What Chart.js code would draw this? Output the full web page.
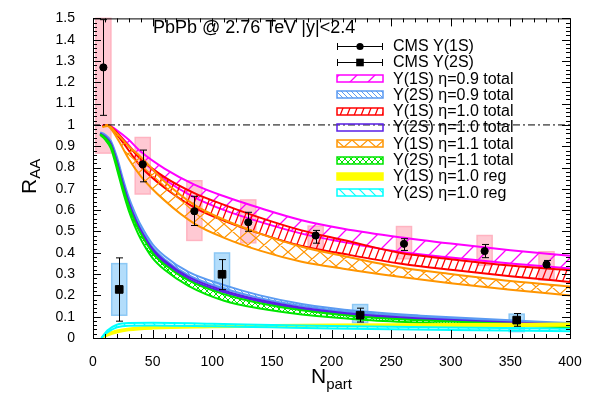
<!DOCTYPE html>
<html>
<head>
<meta charset="utf-8">
<script src="https://cdn.jsdelivr.net/npm/chart.js@4.4.1/dist/chart.umd.min.js"></script>
<style>
html, body { margin: 0; padding: 0; background: #fff; }
#wrap { width: 592px; height: 396px; }
</style>
</head>
<body>
<div id="wrap"><canvas id="raaChart" width="592" height="396"></canvas></div>
<script>
const FONT = '"Liberation Sans", Arial, Helvetica, sans-serif';

// model bands, Y(1S)
const npart1S = [8, 12, 20, 30, 40, 60, 85, 110, 140, 175, 210, 257, 300, 350, 400];
const ups1S09 = [0.995, 1.0, 0.975, 0.93, 0.875, 0.795, 0.72, 0.665, 0.61, 0.553, 0.513, 0.473, 0.443, 0.412, 0.386];
const low1S09 = [0.995, 1.0, 0.965, 0.905, 0.84, 0.745, 0.66, 0.6, 0.545, 0.49, 0.45, 0.405, 0.378, 0.35, 0.326];
const ups1S10 = [0.995, 1.0, 0.965, 0.9, 0.84, 0.755, 0.68, 0.625, 0.565, 0.505, 0.46, 0.4, 0.37, 0.34, 0.318];
const low1S10 = [0.995, 1.0, 0.955, 0.88, 0.805, 0.705, 0.612, 0.55, 0.49, 0.432, 0.395, 0.35, 0.32, 0.29, 0.263];
const ups1S11 = [0.99, 1.0, 0.96, 0.9, 0.85, 0.735, 0.625, 0.555, 0.49, 0.428, 0.385, 0.332, 0.3, 0.267, 0.242];
const low1S11 = [0.99, 0.995, 0.94, 0.84, 0.76, 0.645, 0.537, 0.47, 0.41, 0.358, 0.325, 0.287, 0.257, 0.227, 0.2];

// model bands, Y(2S)
const npart2S = [6, 10, 15, 20, 25, 30, 35, 40, 50, 60, 80, 110, 140, 175, 225, 275, 325, 400];
const ups2S09 = [0.965, 0.955, 0.925, 0.85, 0.75, 0.66, 0.59, 0.53, 0.44, 0.385, 0.31, 0.248, 0.2, 0.16, 0.125, 0.105, 0.09, 0.07];
const low2S09 = [0.96, 0.948, 0.915, 0.835, 0.735, 0.645, 0.572, 0.515, 0.425, 0.37, 0.295, 0.232, 0.187, 0.15, 0.117, 0.098, 0.084, 0.065];
const ups2S10 = [0.96, 0.946, 0.912, 0.83, 0.728, 0.638, 0.565, 0.507, 0.418, 0.362, 0.287, 0.222, 0.178, 0.142, 0.11, 0.092, 0.079, 0.062];
const low2S10 = [0.958, 0.943, 0.908, 0.824, 0.72, 0.63, 0.557, 0.498, 0.41, 0.353, 0.278, 0.214, 0.171, 0.136, 0.105, 0.088, 0.075, 0.059];
const ups2S11 = [0.957, 0.94, 0.903, 0.815, 0.71, 0.62, 0.547, 0.49, 0.4, 0.345, 0.27, 0.205, 0.163, 0.13, 0.1, 0.083, 0.071, 0.056];
const low2S11 = [0.953, 0.932, 0.89, 0.795, 0.69, 0.598, 0.525, 0.465, 0.375, 0.32, 0.245, 0.175, 0.138, 0.11, 0.086, 0.072, 0.062, 0.05];

// regeneration-only bands
const npartReg = [7, 12, 20, 30, 50, 100, 150, 200, 300, 400];
const ups1SReg = [0, 0.02, 0.035, 0.045, 0.053, 0.058, 0.061, 0.063, 0.066, 0.068];
const low1SReg = [0, 0.012, 0.026, 0.036, 0.044, 0.05, 0.053, 0.055, 0.056, 0.057];
const ups2SReg = [0, 0.035, 0.062, 0.07, 0.071, 0.067, 0.061, 0.056, 0.049, 0.044];
const low2SReg = [0, 0.026, 0.05, 0.058, 0.059, 0.055, 0.05, 0.045, 0.038, 0.032];

// CMS data
const npartCms1S = [8.7, 41.7, 85, 130.2, 186.7, 260.8, 328.4, 380.3];
const raaCms1S = [1.27, 0.815, 0.595, 0.543, 0.481, 0.442, 0.408, 0.345];
const statLo1S = [1.045, 0.733, 0.528, 0.501, 0.445, 0.411, 0.377, 0.33];
const statHi1S = [1.494, 0.882, 0.665, 0.59, 0.505, 0.466, 0.439, 0.364];
const sysLo1S = [0.868, 0.676, 0.458, 0.447, 0.42, 0.372, 0.341, 0.271];
const sysHi1S = [1.5, 0.941, 0.738, 0.648, 0.525, 0.523, 0.481, 0.405];

const npartCms2S = [22, 108.2, 224, 355.3];
const raaCms2S = [0.228, 0.299, 0.107, 0.084];
const statLo2S = [0.079, 0.227, 0.075, 0.055];
const statHi2S = [0.376, 0.368, 0.14, 0.115];
const sysLo2S = [0.107, 0.224, 0.072, 0.03];
const sysHi2S = [0.349, 0.399, 0.157, 0.112];

const refLevel = 1;
const xTicks = { min: 0, max: 400, major: 50, minor: 10 };
const yTicks = { min: 0, max: 1.5, major: 0.1, minor: 0.02 };

const canvas = document.getElementById('raaChart');
const mainCtx = canvas.getContext('2d');

// hatch pattern, segments repeated over neighbouring tiles so the tile is seamless
function hatch(color, w, h, segs, lw) {
    const c = document.createElement('canvas');
    c.width = w;
    c.height = h;
    const g = c.getContext('2d');
    g.strokeStyle = color;
    g.lineWidth = lw;
    g.beginPath();
    segs.forEach(([x0, y0, x1, y1]) => {
        for (let i = -1; i <= 1; i++) {
            for (let j = -1; j <= 1; j++) {
                g.moveTo(x0 + i * w, y0 + j * h);
                g.lineTo(x1 + i * w, y1 + j * h);
            }
        }
    });
    g.stroke();
    return mainCtx.createPattern(c, 'repeat');
}

const C = {
    magenta: '#ff00ff',
    sky: '#5b9bf2',
    red: '#ff0000',
    violet: '#5a1ee6',
    orange: '#ff9500',
    green: '#00e600',
    yellow: '#ffff00',
    cyan: '#00ffff'
};

const fills = {
    magenta: hatch(C.magenta, 18, 18, [[0, 18, 18, 0]], 1.3),
    sky: hatch(C.sky, 5, 5, [[0, 0, 5, 5]], 1),
    red: hatch(C.red, 7, 18, [[0, 18, 7, 0]], 1.3),
    violet: null,
    orange: hatch(C.orange, 16, 14, [[0, 14, 16, 0], [0, 0, 16, 14]], 1.2),
    green: hatch(C.green, 6, 6, [[0, 6, 6, 0], [0, 0, 6, 6]], 1),
    yellow: C.yellow,
    cyan: hatch(C.cyan, 10, 10, [[0, 0, 10, 10]], 1.2)
};

function pts(xs, ys) {
    return xs.map((x, i) => ({ x: x, y: ys[i] }));
}

function band(xs, lo, hi, key, label, order) {
    const common = {
        borderColor: C[key],
        borderWidth: 2,
        pointRadius: 0,
        cubicInterpolationMode: 'monotone',
        order: order
    };
    return [
        Object.assign({ label: label + ' lo', data: pts(xs, lo), fill: false }, common),
        Object.assign({
            label: label,
            data: pts(xs, hi),
            backgroundColor: fills[key] || 'rgba(0,0,0,0)',
            fill: fills[key] ? '-1' : false,
            legendKey: key
        }, common)
    ];
}

const datasets = [
    {
        label: 'CMS Υ(1S)',
        data: pts(npartCms1S, raaCms1S),
        showLine: false,
        pointStyle: 'circle',
        pointRadius: 3.6,
        pointBackgroundColor: '#000',
        pointBorderColor: '#000',
        order: 0
    },
    {
        label: 'CMS Υ(2S)',
        data: pts(npartCms2S, raaCms2S),
        showLine: false,
        pointStyle: 'rect',
        pointRadius: 5.4,
        pointBackgroundColor: '#000',
        pointBorderColor: '#000',
        order: 0
    },
    {
        label: 'ref',
        data: [{ x: xTicks.min, y: refLevel }, { x: xTicks.max, y: refLevel }],
        borderColor: '#000',
        borderWidth: 1,
        borderDash: [7, 3, 2, 3],
        pointRadius: 0,
        fill: false,
        order: 1
    },
    ...band(npartReg, low2SReg, ups2SReg, 'cyan', 'Υ(2S) η=1.0 reg', 3),
    ...band(npartReg, low1SReg, ups1SReg, 'yellow', 'Υ(1S) η=1.0 reg', 4),
    ...band(npart2S, low2S11, ups2S11, 'green', 'Υ(2S) η=1.1 total', 5),
    ...band(npart1S, low1S11, ups1S11, 'orange', 'Υ(1S) η=1.1 total', 6),
    ...band(npart2S, low2S10, ups2S10, 'violet', 'Υ(2S) η=1.0 total', 7),
    ...band(npart1S, low1S10, ups1S10, 'red', 'Υ(1S) η=1.0 total', 8),
    ...band(npart2S, low2S09, ups2S09, 'sky', 'Υ(2S) η=0.9 total', 9),
    ...band(npart1S, low1S09, ups1S09, 'magenta', 'Υ(1S) η=0.9 total', 10)
];

const legendOrder = [
    'CMS Υ(1S)', 'CMS Υ(2S)',
    'Υ(1S) η=0.9 total', 'Υ(2S) η=0.9 total',
    'Υ(1S) η=1.0 total', 'Υ(2S) η=1.0 total',
    'Υ(1S) η=1.1 total', 'Υ(2S) η=1.1 total',
    'Υ(1S) η=1.0 reg', 'Υ(2S) η=1.0 reg'
];

// systematic boxes under the curves, stat bars on top
const cmsErrors = {
    id: 'cmsErrors',
    beforeDatasetsDraw(chart) {
        const { ctx, scales: { x, y } } = chart;
        const halfW = 6.3;
        const drawBoxes = (xs, lo, hi, fill, edge) => {
            xs.forEach((v, i) => {
                const x0 = x.getPixelForValue(v - halfW);
                const x1 = x.getPixelForValue(v + halfW);
                const y0 = y.getPixelForValue(Math.min(hi[i], yTicks.max));
                const y1 = y.getPixelForValue(lo[i]);
                ctx.fillStyle = fill;
                ctx.fillRect(x0, y0, x1 - x0, y1 - y0);
                ctx.strokeStyle = edge;
                ctx.lineWidth = 1.5;
                ctx.strokeRect(x0, y0, x1 - x0, y1 - y0);
            });
        };
        ctx.save();
        drawBoxes(npartCms1S, sysLo1S, sysHi1S, 'rgba(255,192,203,0.85)', '#ffb3c1');
        drawBoxes(npartCms2S, sysLo2S, sysHi2S, 'rgba(160,212,250,0.8)', '#8cc8f5');
        ctx.restore();
    },
    afterDatasetsDraw(chart) {
        const { ctx, scales: { x, y } } = chart;
        const cap = 3.5;
        const drawBars = (xs, lo, hi) => {
            xs.forEach((v, i) => {
                const px = Math.round(x.getPixelForValue(v)) + 0.5;
                const y0 = y.getPixelForValue(lo[i]);
                const y1 = y.getPixelForValue(hi[i]);
                ctx.beginPath();
                ctx.moveTo(px, y0);
                ctx.lineTo(px, y1);
                ctx.moveTo(px - cap, y0);
                ctx.lineTo(px + cap, y0);
                ctx.moveTo(px - cap, y1);
                ctx.lineTo(px + cap, y1);
                ctx.stroke();
            });
        };
        ctx.save();
        ctx.strokeStyle = '#000';
        ctx.lineWidth = 1;
        drawBars(npartCms1S, statLo1S, statHi1S);
        drawBars(npartCms2S, statLo2S, statHi2S);
        ctx.restore();
    }
};

// frame, inward ticks on all four sides, titles and legend
const decorations = {
    id: 'decorations',
    afterDraw(chart) {
        const { ctx, chartArea: a, scales: { x, y } } = chart;
        ctx.save();
        ctx.strokeStyle = '#000';
        ctx.lineWidth = 1;
        ctx.strokeRect(a.left + 0.5, a.top + 0.5, a.right - a.left, a.bottom - a.top);

        ctx.beginPath();
        for (let v = xTicks.min; v <= xTicks.max + 1e-9; v += xTicks.minor) {
            const px = Math.round(x.getPixelForValue(v)) + 0.5;
            const len = Math.abs(v % xTicks.major) < 1e-6 ? 8 : 4;
            ctx.moveTo(px, a.bottom);
            ctx.lineTo(px, a.bottom - len);
            ctx.moveTo(px, a.top);
            ctx.lineTo(px, a.top + len);
        }
        for (let k = 0; k <= Math.round((yTicks.max - yTicks.min) / yTicks.minor); k++) {
            const v = yTicks.min + k * yTicks.minor;
            const py = Math.round(y.getPixelForValue(v)) + 0.5;
            const len = k % 5 === 0 ? 8 : 4;
            ctx.moveTo(a.left, py);
            ctx.lineTo(a.left + len, py);
            ctx.moveTo(a.right, py);
            ctx.lineTo(a.right - len, py);
        }
        ctx.stroke();

        ctx.fillStyle = '#000';
        ctx.textBaseline = 'alphabetic';
        ctx.textAlign = 'left';

        // plot title
        ctx.font = '18px ' + FONT;
        ctx.fillText('PbPb @ 2.76 TeV |y|<2.4', 153, 33);

        // x title with subscript
        ctx.font = '21px ' + FONT;
        ctx.fillText('N', 311, 383);
        const wN = ctx.measureText('N').width;
        ctx.font = '15px ' + FONT;
        ctx.fillText('part', 311 + wN, 389);

        // y title, rotated, with subscript
        ctx.save();
        ctx.translate(36, 194);
        ctx.rotate(-Math.PI / 2);
        ctx.font = '21px ' + FONT;
        ctx.fillText('R', 0, 0);
        const wR = ctx.measureText('R').width;
        ctx.font = '15px ' + FONT;
        ctx.fillText('AA', wR, 4);
        ctx.restore();

        // legend
        const sx0 = 337, sx1 = 383, tx = 393, row0 = 46, step = 16.3;
        ctx.font = '16px ' + FONT;
        ctx.textBaseline = 'middle';
        legendOrder.forEach((name, r) => {
            const ds = chart.data.datasets.find(d => d.label === name);
            const cy = row0 + r * step;
            if (ds.showLine === false) {
                const ry = Math.round(cy) + 0.5;
                ctx.strokeStyle = '#000';
                ctx.lineWidth = 1;
                ctx.beginPath();
                ctx.moveTo(sx0, ry);
                ctx.lineTo(sx1, ry);
                ctx.moveTo(sx0 + 0.5, ry - 3.5);
                ctx.lineTo(sx0 + 0.5, ry + 3.5);
                ctx.moveTo(sx1 - 0.5, ry - 3.5);
                ctx.lineTo(sx1 - 0.5, ry + 3.5);
                ctx.stroke();
                ctx.fillStyle = '#000';
                const mx = (sx0 + sx1) / 2;
                if (ds.pointStyle === 'circle') {
                    ctx.beginPath();
                    ctx.arc(mx, ry, 3.6, 0, Math.PI * 2);
                    ctx.fill();
                } else {
                    ctx.fillRect(mx - 3.8, ry - 3.8, 7.6, 7.6);
                }
            } else {
                const key = ds.legendKey;
                const by = Math.round(cy - 3.5);
                if (fills[key]) {
                    ctx.fillStyle = fills[key];
                    ctx.fillRect(sx0, by, sx1 - sx0, 7);
                }
                ctx.strokeStyle = C[key];
                ctx.lineWidth = 1.5;
                ctx.strokeRect(sx0, by, sx1 - sx0, 7);
            }
            ctx.fillStyle = '#000';
            ctx.fillText(name, tx, cy + 0.5);
        });
        ctx.restore();
    }
};

new Chart(mainCtx, {
    type: 'line',
    data: { datasets: datasets },
    options: {
        responsive: false,
        animation: false,
        devicePixelRatio: 1,
        layout: { padding: { left: 0, top: 17, right: 22, bottom: 0 } },
        plugins: {
            legend: { display: false },
            tooltip: { enabled: false },
            title: { display: false }
        },
        scales: {
            x: {
                type: 'linear',
                min: xTicks.min,
                max: xTicks.max,
                grid: { display: false },
                border: { display: false },
                ticks: {
                    stepSize: xTicks.major,
                    maxRotation: 0,
                    padding: 8,
                    color: '#000',
                    font: { family: FONT, size: 14 }
                },
                afterFit(scale) { scale.height = 58; }
            },
            y: {
                type: 'linear',
                min: yTicks.min,
                max: yTicks.max,
                grid: { display: false },
                border: { display: false },
                ticks: {
                    stepSize: yTicks.major,
                    padding: 10,
                    color: '#000',
                    font: { family: FONT, size: 14 },
                    callback: v => String(Math.round(v * 10) / 10)
                },
                afterFit(scale) { scale.width = 93; }
            }
        }
    },
    plugins: [cmsErrors, decorations]
});
</script>
</body>
</html>
